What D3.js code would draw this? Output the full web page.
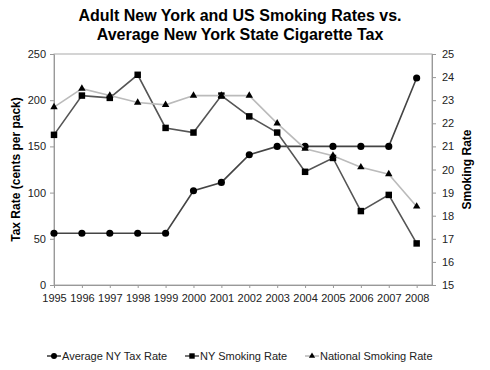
<!DOCTYPE html>
<html>
<head>
<meta charset="utf-8">
<script src="https://cdn.jsdelivr.net/npm/d3@7"></script>
<style>
  body { margin: 0; background: #fff; }
  svg { font-family: "Liberation Sans", Arial, sans-serif; }
</style>
</head>
<body>
<svg id="chart" width="490" height="370"></svg>
<script>
// Data
const years = [1995, 1996, 1997, 1998, 1999, 2000, 2001, 2002, 2003, 2004, 2005, 2006, 2007, 2008];
const taxRate = [56, 56, 56, 56, 56, 102, 111, 141, 150, 150, 150, 150, 150, 224];
const nySmoking = [21.5, 23.2, 23.1, 24.1, 21.8, 21.6, 23.2, 22.3, 21.6, 19.9, 20.5, 18.2, 18.9, 16.8];
const usSmoking = [22.7, 23.5, 23.2, 22.9, 22.8, 23.2, 23.2, 23.2, 22.0, 20.9, 20.6, 20.1, 19.8, 18.4];
const leftTicks = [0, 50, 100, 150, 200, 250];
const rightTicks = [15, 16, 17, 18, 19, 20, 21, 22, 23, 24, 25];
const seriesNames = ["Average NY Tax Rate", "NY Smoking Rate", "National Smoking Rate"];

const margin = { top: 54, left: 54, right: 58, bottom: 85 };
const width = 490 - margin.left - margin.right;
const height = 370 - margin.top - margin.bottom;

const svg = d3.select("#chart");
const g = svg.append("g").attr("transform", `translate(${margin.left},${margin.top})`);

// Scales
const x = d3.scaleLinear().domain([1995, 2008.55]).range([0, width]);
const yLeft = d3.scaleLinear().domain([0, 250]).range([height, 0]);
const yRight = d3.scaleLinear().domain([15, 25]).range([height, 0]);

// Title
svg.append("text")
    .attr("x", 240).attr("y", 21)
    .attr("text-anchor", "middle")
    .style("font-size", "16px").style("font-weight", "bold")
    .text("Adult New York and US Smoking Rates vs.");
svg.append("text")
    .attr("x", 240).attr("y", 40)
    .attr("text-anchor", "middle")
    .style("font-size", "16px").style("font-weight", "bold")
    .text("Average New York State Cigarette Tax");

// Plot frame
g.append("rect")
    .attr("width", width).attr("height", height)
    .attr("fill", "none").attr("stroke", "#aaa");

// Axes
function styleAxis(sel) {
    sel.selectAll(".domain").attr("stroke", "#999");
    sel.selectAll(".tick line").attr("stroke", "#999");
    sel.selectAll(".tick text").attr("fill", "#222").style("font-size", "11px");
}

g.append("g")
    .attr("transform", `translate(0,${height})`)
    .call(d3.axisBottom(x).tickValues(years).tickFormat(d3.format("d")).tickSize(3).tickSizeOuter(0).tickPadding(6))
    .call(styleAxis);

g.append("g")
    .call(d3.axisLeft(yLeft).tickValues(leftTicks).tickSize(4).tickSizeOuter(0).tickPadding(4))
    .call(styleAxis);

g.append("g")
    .attr("transform", `translate(${width},0)`)
    .call(d3.axisRight(yRight).tickValues(rightTicks).tickSize(4).tickSizeOuter(0).tickPadding(6))
    .call(styleAxis);

// Axis titles
svg.append("text")
    .attr("transform", `translate(16,${margin.top + height / 2}) rotate(-90)`)
    .attr("text-anchor", "middle").attr("dy", "0.35em")
    .style("font-size", "12px").style("font-weight", "bold")
    .text("Tax Rate (cents per pack)");
svg.append("text")
    .attr("transform", `translate(467,${margin.top + height / 2}) rotate(-90)`)
    .attr("text-anchor", "middle").attr("dy", "0.35em")
    .style("font-size", "12px").style("font-weight", "bold")
    .text("Smoking Rate");

// Series
const series = [
    { name: seriesNames[0], values: taxRate, y: yLeft, line: "#444", symbol: d3.symbolCircle, size: 40 },
    { name: seriesNames[1], values: nySmoking, y: yRight, line: "#555", symbol: d3.symbolSquare, size: 42 },
    { name: seriesNames[2], values: usSmoking, y: yRight, line: "#bbb", symbol: d3.symbolTriangle, size: 24 }
];

series.forEach(s => {
    const line = d3.line()
        .x((d, i) => x(years[i]))
        .y(d => s.y(d));
    g.append("path")
        .datum(s.values)
        .attr("d", line)
        .attr("fill", "none")
        .attr("stroke", s.line)
        .attr("stroke-width", 1.6);
    g.selectAll(null)
        .data(s.values)
        .join("path")
        .attr("d", d3.symbol().type(s.symbol).size(s.size))
        .attr("transform", (d, i) => `translate(${x(years[i])},${s.y(d)})`)
        .attr("fill", "#000");
});

// Legend
const legendX = [47, 185, 305];
const legend = svg.append("g").attr("transform", "translate(0,356)");
series.forEach((s, i) => {
    const lg = legend.append("g").attr("transform", `translate(${legendX[i]},0)`);
    lg.append("line")
        .attr("x1", 0).attr("x2", 14)
        .attr("stroke", s.line).attr("stroke-width", 1.6);
    lg.append("path")
        .attr("d", d3.symbol().type(s.symbol).size(s.size * 0.7))
        .attr("transform", "translate(7,0)")
        .attr("fill", "#000");
    lg.append("text")
        .attr("x", 15).attr("dy", "0.35em")
        .attr("fill", "#222")
        .style("font-size", "11px")
        .text(s.name);
});
</script>
</body>
</html>
